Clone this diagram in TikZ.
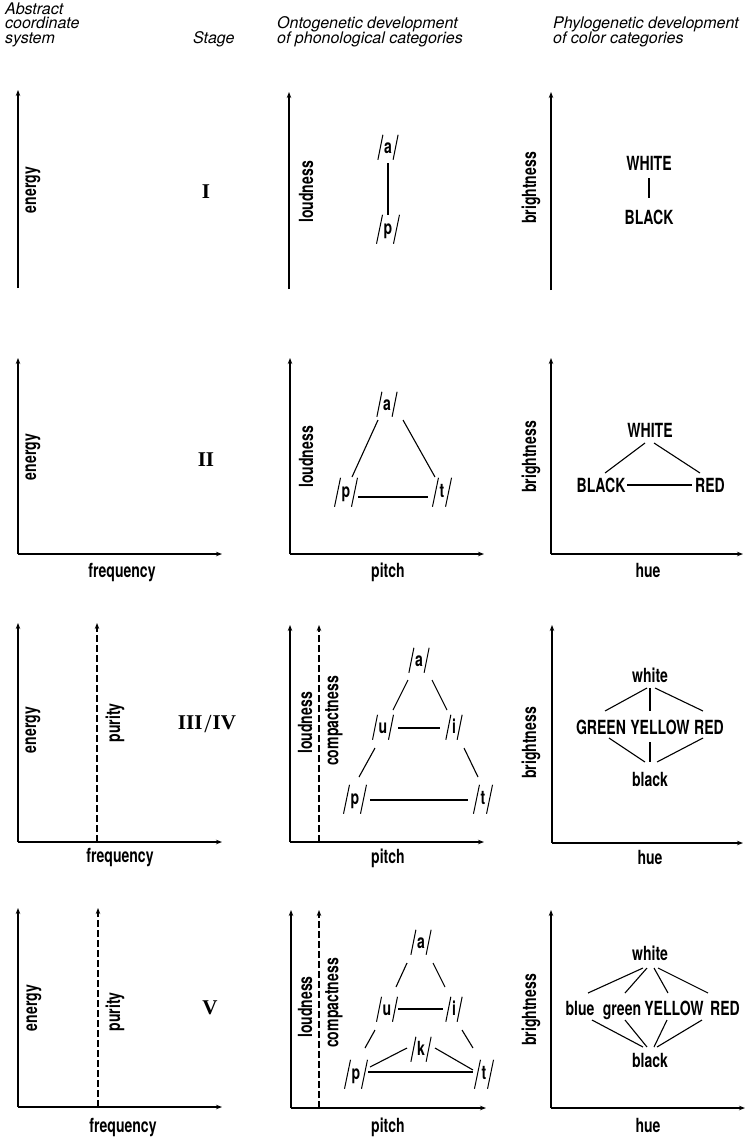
\documentclass[tikz,border=0pt]{standalone}
\usepackage{fontspec}
\usetikzlibrary{arrows.meta,calc}
\newfontfamily\labf{TeX Gyre Heros}[FakeStretch=0.72]
\newfontfamily\hdrf{TeX Gyre Heros}
\newfontfamily\numf{Liberation Serif}
\tikzset{
  ax/.style={line width=1.1pt,-{Stealth[length=6pt,width=4.5pt]}},
  dax/.style={ax,dash pattern=on 7pt off 3pt},
  lab/.style={font=\labf\bfseries\fontsize{19.5}{22}\selectfont,inner sep=0pt},
  hw/.style={lab,text height=14pt,text depth=0pt},
  vlab/.style={lab,rotate=90},
  stg/.style={font=\numf\bfseries\fontsize{21}{24}\selectfont,inner sep=0pt},
  hdr/.style={font=\hdrf\itshape\fontsize{16}{14.5}\selectfont,inner sep=0pt,anchor=base west},
  phon/.style={lab,text height=9.5pt,text depth=0pt},
  con/.style={line width=1.1pt},
  slashln/.style={line width=1pt}
}
\newcommand\phs[3]{%
  \node[phon] (#1) at (#2) {#3};
  \draw[slashln] ($(#1.base west)+(-6,6)$) -- ($(#1.base west)+(-1,-19)$);
  \draw[slashln] ($(#1.base east)+(1,6)$) -- ($(#1.base east)+(6,-19)$);}
\newcommand\pht[3]{%
  \node[phon] (#1) at (#2) {#3};
  \draw[slashln] ($(#1.base west)+(-7,9)$) -- ($(#1.base west)+(-1,-20)$);
  \draw[slashln] ($(#1.base east)+(1,9)$) -- ($(#1.base east)+(7,-20)$);}
\newcommand\cn[6]{\draw[con] ($(#1)+(#2,#3)$) -- ($(#4)+(#5,#6)$);}
\begin{document}
\begin{tikzpicture}[x=1pt,y=-1pt]
\useasboundingbox (0,0) rectangle (750,1138);
% header
\node[hdr] (hA1) at (5,14) {Abstract};
\node[hdr] (hA2) at (5,28.5) {coordinate};
\node[hdr] (hA3) at (5,43) {system};
\node[hdr] (hS) at (193,43) {Stage};
\node[hdr] (hO1) at (277,28.5) {Ontogenetic development};
\node[hdr] (hO2) at (277,43) {of phonological categories};
\node[hdr] (hP1) at (553,28.5) {Phylogenetic development};
\node[hdr] (hP2) at (553,43) {of color categories};

% ===== Row 1 =====
\coordinate (L1b) at (18,288); \coordinate (L1t) at (18,90);
\draw[ax] (L1b) -- (L1t);
\node[vlab] (e1) at (33,190) {energy};
\node[stg] (s1) at (206,192) {I};
\coordinate (M1b) at (289,289); \coordinate (M1t) at (289,92);
\draw[ax] (M1b) -- (M1t);
\node[vlab] (ld1) at (306,192) {loudness};
\phs{a1}{388,149}{a}
\pht{p1}{388,230}{p}
\cn{a1}{0}{14}{p1}{0}{-15}
\coordinate (R1b) at (551,290); \coordinate (R1t) at (551,92);
\draw[ax] (R1b) -- (R1t);
\node[vlab] (br1) at (531,188) {brightness};
\node[hw] (W1) at (649,163) {WHITE};
\node[hw] (B1) at (649,217) {BLACK};
\cn{W1}{0}{15}{B1}{0}{-19}

% ===== Row 2 =====
\coordinate (L2o) at (18,554);
\draw[ax] (L2o) -- (18,358);
\draw[ax] (L2o) -- (222,554);
\node[vlab] (e2) at (33,457) {energy};
\node[stg] (s2) at (206,460) {II};
\node[hw] (f2) at (122,570) {frequency};
\coordinate (M2o) at (290,554);
\draw[ax] (M2o) -- (290,358);
\draw[ax] (M2o) -- (484,554);
\node[vlab] (ld2) at (306,457) {loudness};
\node[hw] (pi2) at (388,570) {pitch};
\phs{a2}{387,406}{a}
\pht{p2}{346,493}{p}
\pht{t2}{442,493}{t}
\cn{a2}{-9}{14}{p2}{6}{-16}
\cn{a2}{16}{14}{t2}{-7}{-16}
\cn{p2}{12}{4}{t2}{-14}{4}
\coordinate (R2o) at (551,554);
\draw[ax] (R2o) -- (551,358);
\draw[ax] (R2o) -- (743,554);
\node[vlab] (br2) at (531,457) {brightness};
\node[hw] (hu2) at (648,570) {hue};
\node[hw] (W2) at (650,430) {WHITE};
\node[hw] (B2) at (601,485) {BLACK};
\node[hw] (R2) at (710,485) {RED};
\cn{W2}{-5}{13}{B2}{4}{-12}
\cn{W2}{4}{13}{R2}{-10}{-12}
\cn{B2}{26}{0}{R2}{-18}{0}

% ===== Row 3 =====
\coordinate (L3o) at (18,842);
\draw[ax] (L3o) -- (18,623);
\draw[ax] (L3o) -- (222,842);
\draw[dax] (97,842) -- (97,623);
\node[vlab] (e3) at (33,730) {energy};
\node[vlab] (pu3) at (115,723) {purity};
\node[stg] (s3) at (207,724) {III\kern2pt\raisebox{-3pt}{\fontsize{26}{26}\selectfont\mdseries/}\kern1pt IV};
\node[hw] (f3) at (120,855) {frequency};
\coordinate (M3o) at (290,842);
\draw[ax] (M3o) -- (290,625);
\draw[ax] (M3o) -- (484,842);
\draw[dax] (319,842) -- (319,625);
\node[vlab] (ld3) at (305,723) {loudness};
\node[vlab] (cp3) at (334,721) {compactness};
\node[hw] (pi3) at (388,856) {pitch};
\phs{a3}{419,662}{a}
\phs{u3}{383,729}{u}
\phs{i3}{454,729}{i}
\pht{p3}{355,800}{p}
\pht{t3}{483,800}{t}
\cn{a3}{-11}{18}{u3}{10}{-19}
\cn{a3}{13}{18}{i3}{-7}{-19}
\cn{u3}{15}{-1}{i3}{-14}{-1}
\cn{u3}{-8}{19}{p3}{4}{-23}
\cn{i3}{10}{19}{t3}{-5}{-23}
\cn{p3}{15}{0}{t3}{-15}{0}
\coordinate (R3o) at (552,843);
\draw[ax] (R3o) -- (552,625);
\draw[ax] (R3o) -- (743,843);
\node[vlab] (br3) at (531,743) {brightness};
\node[hw] (hu3) at (650,857) {hue};
\node[hw] (w3) at (650,675) {white};
\node[hw] (G3) at (601,727) {GREEN};
\node[hw] (Y3) at (660,727) {YELLOW};
\node[hw] (R3) at (709,727) {RED};
\node[hw] (k3) at (650,779) {black};
\cn{w3}{-3}{13}{G3}{4}{-16}
\cn{w3}{0}{13}{Y3}{-10}{-16}
\cn{w3}{5}{13}{R3}{-6}{-16}
\cn{G3}{8}{11}{k3}{-5}{-17}
\cn{Y3}{-10}{15}{k3}{0}{-17}
\cn{R3}{-6}{11}{k3}{7}{-17}

% ===== Row 4 =====
\coordinate (L4o) at (18,1107);
\draw[ax] (L4o) -- (18,908);
\draw[ax] (L4o) -- (222,1107);
\draw[dax] (98,1107) -- (98,908);
\node[vlab] (e4) at (34,1008) {energy};
\node[vlab] (pu4) at (115,1012) {purity};
\node[stg] (s4) at (210,1008) {V};
\node[hw] (f4) at (123,1125) {frequency};
\coordinate (M4o) at (291,1108);
\draw[ax] (M4o) -- (291,910);
\draw[ax] (M4o) -- (486,1108);
\draw[dax] (319,1108) -- (319,910);
\node[vlab] (ld4) at (305,1007) {loudness};
\node[vlab] (cp4) at (334,1003) {compactness};
\node[hw] (pi4) at (388,1125) {pitch};
\phs{a4}{421,944}{a}
\phs{u4}{387,1011}{u}
\phs{i4}{454,1011}{i}
\phs{k4}{421,1051}{k}
\pht{p4}{356,1075}{p}
\pht{t4}{484,1075}{t}
\cn{a4}{-14}{19}{u4}{9}{-24}
\cn{a4}{12}{19}{i4}{-9}{-24}
\cn{u4}{11}{-2}{i4}{-11}{-2}
\cn{u4}{-12}{19}{p4}{9}{-27}
\cn{i4}{8}{19}{t4}{-11}{-27}
\cn{p4}{14}{-8}{k4}{-14}{-3}
\cn{k4}{14}{-3}{t4}{-11}{-5}
\cn{p4}{12}{-3}{t4}{-11}{-3}
\coordinate (R4o) at (551,1108);
\draw[ax] (R4o) -- (551,910);
\draw[ax] (R4o) -- (745,1108);
\node[vlab] (br4) at (531,1010) {brightness};
\node[hw] (hu4) at (648,1125) {hue};
\node[hw] (w4) at (650,953) {white};
\node[hw] (bl4) at (580,1008) {blue};
\node[hw] (gr4) at (622,1008) {green};
\node[hw] (Y4) at (674,1008) {YELLOW};
\node[hw] (R4) at (725,1008) {RED};
\node[hw] (k4c) at (650,1060) {black};
\cn{w4}{-7}{15}{bl4}{8}{-15}
\cn{w4}{-3}{15}{gr4}{3}{-15}
\cn{w4}{4}{15}{Y4}{-6}{-15}
\cn{w4}{8}{15}{R4}{-17}{-15}
\cn{bl4}{12}{12}{k4c}{-7}{-13}
\cn{gr4}{3}{12}{k4c}{-3}{-13}
\cn{Y4}{-7}{12}{k4c}{4}{-13}
\cn{R4}{-23}{12}{k4c}{7}{-13}
\end{tikzpicture}
\end{document}
